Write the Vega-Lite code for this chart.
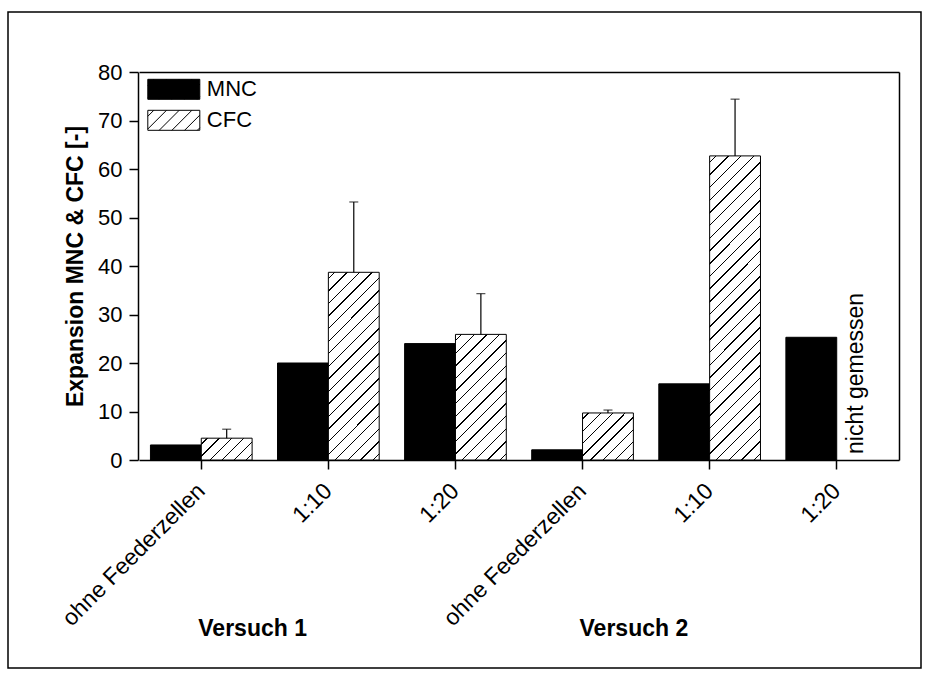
{
  "$schema": "https://vega.github.io/schema/vega-lite/v6.json",
  "width": 913,
  "height": 656,
  "autosize": {"type": "none"},
  "padding": {"left": 8, "top": 12, "right": 10, "bottom": 12},
  "background": "white",
  "data": {
    "values": [
      {"grp": "Versuch 1|ohne Feederzellen", "series": "MNC", "val": 3.1},
      {"grp": "Versuch 1|ohne Feederzellen", "series": "CFC", "val": 4.5, "upper": 6.35},
      {"grp": "Versuch 1|1:10", "series": "MNC", "val": 20.0},
      {"grp": "Versuch 1|1:10", "series": "CFC", "val": 38.7, "upper": 53.2},
      {"grp": "Versuch 1|1:20", "series": "MNC", "val": 24.0},
      {"grp": "Versuch 1|1:20", "series": "CFC", "val": 25.9, "upper": 34.3},
      {"grp": "Versuch 2|ohne Feederzellen", "series": "MNC", "val": 2.1},
      {"grp": "Versuch 2|ohne Feederzellen", "series": "CFC", "val": 9.7, "upper": 10.3},
      {"grp": "Versuch 2|1:10", "series": "MNC", "val": 15.7},
      {"grp": "Versuch 2|1:10", "series": "CFC", "val": 62.7, "upper": 74.4},
      {"grp": "Versuch 2|1:20", "series": "MNC", "val": 25.3},
      {"grp": "Versuch 2|1:20", "series": "CFC", "val": null, "note": "nicht gemessen"}
    ]
  },
  "layer": [
    {
      "mark": {"type": "bar", "stroke": "black", "strokeWidth": 1},
      "encoding": {
        "x": {
          "field": "grp", "type": "nominal", "sort": null,
          "scale": {
            "domain": ["Versuch 1|ohne Feederzellen", "Versuch 1|1:10", "Versuch 1|1:20", "Versuch 2|ohne Feederzellen", "Versuch 2|1:10", "Versuch 2|1:20"],
            "range": [131, 891], "paddingInner": 0.2, "paddingOuter": 0.09
          },
          "axis": {
            "orient": "bottom", "offset": -208, "title": null,
            "labelExpr": "split(datum.value,'|')[1]",
            "labelAngle": -45, "labelAlign": "right", "labelBaseline": "middle", "labelLimit": 0, "labelFontSize": 23,
            "labelPadding": 18, "tickSize": 9, "labelOverlap": false, "labelBound": false, "labelFlush": false
          }
        },
        "xOffset": {"field": "series", "type": "nominal", "scale": {"domain": ["MNC", "CFC"], "paddingInner": 0, "paddingOuter": 0}},
        "y": {
          "field": "val", "type": "quantitative",
          "scale": {"domain": [0, 80], "range": [448, 60], "nice": false, "zero": true},
          "axis": {
            "orient": "left", "offset": -130, "values": [0, 10, 20, 30, 40, 50, 60, 70, 80],
            "tickSize": 9, "labelPadding": 7,
            "title": "Expansion MNC & CFC [-]", "titleFontSize": 23, "titleFontWeight": "bold", "titlePadding": 10
          }
        },
        "fill": {
          "field": "series", "type": "nominal",
          "scale": {"domain": ["MNC", "CFC"], "range": ["black", "white"]},
          "condition": [
            {"test": "datum.series === 'CFC' && datum.grp === 'Versuch 1|ohne Feederzellen'", "value": {"gradient": "linear", "x1": 0, "y1": 0, "x2": 1.207, "y2": 0.518, "stops": [
              {"offset": 0.0736, "color": "#fff"}, {"offset": 0.0736, "color": "#000"}, {"offset": 0.093, "color": "#000"}, {"offset": 0.093, "color": "#fff"},
              {"offset": 0.2403, "color": "#fff"}, {"offset": 0.2403, "color": "#000"}, {"offset": 0.2597, "color": "#000"}, {"offset": 0.2597, "color": "#fff"},
              {"offset": 0.407, "color": "#fff"}, {"offset": 0.407, "color": "#000"}, {"offset": 0.4264, "color": "#000"}, {"offset": 0.4264, "color": "#fff"},
              {"offset": 0.5736, "color": "#fff"}, {"offset": 0.5736, "color": "#000"}, {"offset": 0.593, "color": "#000"}, {"offset": 0.593, "color": "#fff"},
              {"offset": 0.7403, "color": "#fff"}, {"offset": 0.7403, "color": "#000"}, {"offset": 0.7597, "color": "#000"}, {"offset": 0.7597, "color": "#fff"},
              {"offset": 0.907, "color": "#fff"}, {"offset": 0.907, "color": "#000"}, {"offset": 0.9264, "color": "#000"}, {"offset": 0.9264, "color": "#fff"}
            ]}},
            {"test": "datum.series === 'CFC' && datum.grp === 'Versuch 1|1:10'", "value": {"gradient": "linear", "x1": 0, "y1": 0, "x2": 0.3209, "y2": 1.184, "stops": [
              {"offset": 0.0233, "color": "#fff"}, {"offset": 0.0233, "color": "#000"}, {"offset": 0.0293, "color": "#000"}, {"offset": 0.0293, "color": "#fff"},
              {"offset": 0.076, "color": "#fff"}, {"offset": 0.076, "color": "#000"}, {"offset": 0.082, "color": "#000"}, {"offset": 0.082, "color": "#fff"},
              {"offset": 0.1286, "color": "#fff"}, {"offset": 0.1286, "color": "#000"}, {"offset": 0.1346, "color": "#000"}, {"offset": 0.1346, "color": "#fff"},
              {"offset": 0.1812, "color": "#fff"}, {"offset": 0.1812, "color": "#000"}, {"offset": 0.1872, "color": "#000"}, {"offset": 0.1872, "color": "#fff"},
              {"offset": 0.2338, "color": "#fff"}, {"offset": 0.2338, "color": "#000"}, {"offset": 0.2398, "color": "#000"}, {"offset": 0.2398, "color": "#fff"},
              {"offset": 0.2865, "color": "#fff"}, {"offset": 0.2865, "color": "#000"}, {"offset": 0.2925, "color": "#000"}, {"offset": 0.2925, "color": "#fff"},
              {"offset": 0.3391, "color": "#fff"}, {"offset": 0.3391, "color": "#000"}, {"offset": 0.3451, "color": "#000"}, {"offset": 0.3451, "color": "#fff"},
              {"offset": 0.3917, "color": "#fff"}, {"offset": 0.3917, "color": "#000"}, {"offset": 0.3977, "color": "#000"}, {"offset": 0.3977, "color": "#fff"},
              {"offset": 0.4444, "color": "#fff"}, {"offset": 0.4444, "color": "#000"}, {"offset": 0.4504, "color": "#000"}, {"offset": 0.4504, "color": "#fff"},
              {"offset": 0.497, "color": "#fff"}, {"offset": 0.497, "color": "#000"}, {"offset": 0.503, "color": "#000"}, {"offset": 0.503, "color": "#fff"},
              {"offset": 0.5496, "color": "#fff"}, {"offset": 0.5496, "color": "#000"}, {"offset": 0.5556, "color": "#000"}, {"offset": 0.5556, "color": "#fff"},
              {"offset": 0.6023, "color": "#fff"}, {"offset": 0.6023, "color": "#000"}, {"offset": 0.6083, "color": "#000"}, {"offset": 0.6083, "color": "#fff"},
              {"offset": 0.6549, "color": "#fff"}, {"offset": 0.6549, "color": "#000"}, {"offset": 0.6609, "color": "#000"}, {"offset": 0.6609, "color": "#fff"},
              {"offset": 0.7075, "color": "#fff"}, {"offset": 0.7075, "color": "#000"}, {"offset": 0.7135, "color": "#000"}, {"offset": 0.7135, "color": "#fff"},
              {"offset": 0.7602, "color": "#fff"}, {"offset": 0.7602, "color": "#000"}, {"offset": 0.7662, "color": "#000"}, {"offset": 0.7662, "color": "#fff"},
              {"offset": 0.8128, "color": "#fff"}, {"offset": 0.8128, "color": "#000"}, {"offset": 0.8188, "color": "#000"}, {"offset": 0.8188, "color": "#fff"},
              {"offset": 0.8654, "color": "#fff"}, {"offset": 0.8654, "color": "#000"}, {"offset": 0.8714, "color": "#000"}, {"offset": 0.8714, "color": "#fff"},
              {"offset": 0.918, "color": "#fff"}, {"offset": 0.918, "color": "#000"}, {"offset": 0.924, "color": "#000"}, {"offset": 0.924, "color": "#fff"},
              {"offset": 0.9707, "color": "#fff"}, {"offset": 0.9707, "color": "#000"}, {"offset": 0.9767, "color": "#000"}, {"offset": 0.9767, "color": "#fff"}
            ]}},
            {"test": "datum.series === 'CFC' && datum.grp === 'Versuch 1|1:20'", "value": {"gradient": "linear", "x1": 0, "y1": 0, "x2": 0.4875, "y2": 1.207, "stops": [
              {"offset": 0.0317, "color": "#fff"}, {"offset": 0.0317, "color": "#000"}, {"offset": 0.0397, "color": "#000"}, {"offset": 0.0397, "color": "#fff"},
              {"offset": 0.1031, "color": "#fff"}, {"offset": 0.1031, "color": "#000"}, {"offset": 0.1111, "color": "#000"}, {"offset": 0.1111, "color": "#fff"},
              {"offset": 0.1746, "color": "#fff"}, {"offset": 0.1746, "color": "#000"}, {"offset": 0.1826, "color": "#000"}, {"offset": 0.1826, "color": "#fff"},
              {"offset": 0.246, "color": "#fff"}, {"offset": 0.246, "color": "#000"}, {"offset": 0.254, "color": "#000"}, {"offset": 0.254, "color": "#fff"},
              {"offset": 0.3174, "color": "#fff"}, {"offset": 0.3174, "color": "#000"}, {"offset": 0.3254, "color": "#000"}, {"offset": 0.3254, "color": "#fff"},
              {"offset": 0.3889, "color": "#fff"}, {"offset": 0.3889, "color": "#000"}, {"offset": 0.3969, "color": "#000"}, {"offset": 0.3969, "color": "#fff"},
              {"offset": 0.4603, "color": "#fff"}, {"offset": 0.4603, "color": "#000"}, {"offset": 0.4683, "color": "#000"}, {"offset": 0.4683, "color": "#fff"},
              {"offset": 0.5317, "color": "#fff"}, {"offset": 0.5317, "color": "#000"}, {"offset": 0.5397, "color": "#000"}, {"offset": 0.5397, "color": "#fff"},
              {"offset": 0.6031, "color": "#fff"}, {"offset": 0.6031, "color": "#000"}, {"offset": 0.6111, "color": "#000"}, {"offset": 0.6111, "color": "#fff"},
              {"offset": 0.6746, "color": "#fff"}, {"offset": 0.6746, "color": "#000"}, {"offset": 0.6826, "color": "#000"}, {"offset": 0.6826, "color": "#fff"},
              {"offset": 0.746, "color": "#fff"}, {"offset": 0.746, "color": "#000"}, {"offset": 0.754, "color": "#000"}, {"offset": 0.754, "color": "#fff"},
              {"offset": 0.8174, "color": "#fff"}, {"offset": 0.8174, "color": "#000"}, {"offset": 0.8254, "color": "#000"}, {"offset": 0.8254, "color": "#fff"},
              {"offset": 0.8889, "color": "#fff"}, {"offset": 0.8889, "color": "#000"}, {"offset": 0.8969, "color": "#000"}, {"offset": 0.8969, "color": "#fff"},
              {"offset": 0.9603, "color": "#fff"}, {"offset": 0.9603, "color": "#000"}, {"offset": 0.9683, "color": "#000"}, {"offset": 0.9683, "color": "#fff"}
            ]}},
            {"test": "datum.series === 'CFC' && datum.grp === 'Versuch 2|ohne Feederzellen'", "value": {"gradient": "linear", "x1": 0, "y1": 0, "x2": 1.038, "y2": 0.959, "stops": [
              {"offset": 0.0553, "color": "#fff"}, {"offset": 0.0553, "color": "#000"}, {"offset": 0.0697, "color": "#000"}, {"offset": 0.0697, "color": "#fff"},
              {"offset": 0.1803, "color": "#fff"}, {"offset": 0.1803, "color": "#000"}, {"offset": 0.1947, "color": "#000"}, {"offset": 0.1947, "color": "#fff"},
              {"offset": 0.3053, "color": "#fff"}, {"offset": 0.3053, "color": "#000"}, {"offset": 0.3197, "color": "#000"}, {"offset": 0.3197, "color": "#fff"},
              {"offset": 0.4303, "color": "#fff"}, {"offset": 0.4303, "color": "#000"}, {"offset": 0.4447, "color": "#000"}, {"offset": 0.4447, "color": "#fff"},
              {"offset": 0.5553, "color": "#fff"}, {"offset": 0.5553, "color": "#000"}, {"offset": 0.5697, "color": "#000"}, {"offset": 0.5697, "color": "#fff"},
              {"offset": 0.6803, "color": "#fff"}, {"offset": 0.6803, "color": "#000"}, {"offset": 0.6947, "color": "#000"}, {"offset": 0.6947, "color": "#fff"},
              {"offset": 0.8053, "color": "#fff"}, {"offset": 0.8053, "color": "#000"}, {"offset": 0.8197, "color": "#000"}, {"offset": 0.8197, "color": "#fff"},
              {"offset": 0.9303, "color": "#fff"}, {"offset": 0.9303, "color": "#000"}, {"offset": 0.9447, "color": "#000"}, {"offset": 0.9447, "color": "#fff"}
            ]}},
            {"test": "datum.series === 'CFC' && datum.grp === 'Versuch 2|1:10'", "value": {"gradient": "linear", "x1": 0, "y1": 0, "x2": 0.19, "y2": 1.1355, "stops": [
              {"offset": 0.0159, "color": "#fff"}, {"offset": 0.0159, "color": "#000"}, {"offset": 0.0199, "color": "#000"}, {"offset": 0.0199, "color": "#fff"},
              {"offset": 0.0516, "color": "#fff"}, {"offset": 0.0516, "color": "#000"}, {"offset": 0.0556, "color": "#000"}, {"offset": 0.0556, "color": "#fff"},
              {"offset": 0.0873, "color": "#fff"}, {"offset": 0.0873, "color": "#000"}, {"offset": 0.0913, "color": "#000"}, {"offset": 0.0913, "color": "#fff"},
              {"offset": 0.123, "color": "#fff"}, {"offset": 0.123, "color": "#000"}, {"offset": 0.127, "color": "#000"}, {"offset": 0.127, "color": "#fff"},
              {"offset": 0.1587, "color": "#fff"}, {"offset": 0.1587, "color": "#000"}, {"offset": 0.1627, "color": "#000"}, {"offset": 0.1627, "color": "#fff"},
              {"offset": 0.1944, "color": "#fff"}, {"offset": 0.1944, "color": "#000"}, {"offset": 0.1984, "color": "#000"}, {"offset": 0.1984, "color": "#fff"},
              {"offset": 0.2301, "color": "#fff"}, {"offset": 0.2301, "color": "#000"}, {"offset": 0.2341, "color": "#000"}, {"offset": 0.2341, "color": "#fff"},
              {"offset": 0.2659, "color": "#fff"}, {"offset": 0.2659, "color": "#000"}, {"offset": 0.2699, "color": "#000"}, {"offset": 0.2699, "color": "#fff"},
              {"offset": 0.3016, "color": "#fff"}, {"offset": 0.3016, "color": "#000"}, {"offset": 0.3056, "color": "#000"}, {"offset": 0.3056, "color": "#fff"},
              {"offset": 0.3373, "color": "#fff"}, {"offset": 0.3373, "color": "#000"}, {"offset": 0.3413, "color": "#000"}, {"offset": 0.3413, "color": "#fff"},
              {"offset": 0.373, "color": "#fff"}, {"offset": 0.373, "color": "#000"}, {"offset": 0.377, "color": "#000"}, {"offset": 0.377, "color": "#fff"},
              {"offset": 0.4087, "color": "#fff"}, {"offset": 0.4087, "color": "#000"}, {"offset": 0.4127, "color": "#000"}, {"offset": 0.4127, "color": "#fff"},
              {"offset": 0.4444, "color": "#fff"}, {"offset": 0.4444, "color": "#000"}, {"offset": 0.4484, "color": "#000"}, {"offset": 0.4484, "color": "#fff"},
              {"offset": 0.4801, "color": "#fff"}, {"offset": 0.4801, "color": "#000"}, {"offset": 0.4841, "color": "#000"}, {"offset": 0.4841, "color": "#fff"},
              {"offset": 0.5159, "color": "#fff"}, {"offset": 0.5159, "color": "#000"}, {"offset": 0.5199, "color": "#000"}, {"offset": 0.5199, "color": "#fff"},
              {"offset": 0.5516, "color": "#fff"}, {"offset": 0.5516, "color": "#000"}, {"offset": 0.5556, "color": "#000"}, {"offset": 0.5556, "color": "#fff"},
              {"offset": 0.5873, "color": "#fff"}, {"offset": 0.5873, "color": "#000"}, {"offset": 0.5913, "color": "#000"}, {"offset": 0.5913, "color": "#fff"},
              {"offset": 0.623, "color": "#fff"}, {"offset": 0.623, "color": "#000"}, {"offset": 0.627, "color": "#000"}, {"offset": 0.627, "color": "#fff"},
              {"offset": 0.6587, "color": "#fff"}, {"offset": 0.6587, "color": "#000"}, {"offset": 0.6627, "color": "#000"}, {"offset": 0.6627, "color": "#fff"},
              {"offset": 0.6944, "color": "#fff"}, {"offset": 0.6944, "color": "#000"}, {"offset": 0.6984, "color": "#000"}, {"offset": 0.6984, "color": "#fff"},
              {"offset": 0.7301, "color": "#fff"}, {"offset": 0.7301, "color": "#000"}, {"offset": 0.7341, "color": "#000"}, {"offset": 0.7341, "color": "#fff"},
              {"offset": 0.7659, "color": "#fff"}, {"offset": 0.7659, "color": "#000"}, {"offset": 0.7699, "color": "#000"}, {"offset": 0.7699, "color": "#fff"},
              {"offset": 0.8016, "color": "#fff"}, {"offset": 0.8016, "color": "#000"}, {"offset": 0.8056, "color": "#000"}, {"offset": 0.8056, "color": "#fff"},
              {"offset": 0.8373, "color": "#fff"}, {"offset": 0.8373, "color": "#000"}, {"offset": 0.8413, "color": "#000"}, {"offset": 0.8413, "color": "#fff"},
              {"offset": 0.873, "color": "#fff"}, {"offset": 0.873, "color": "#000"}, {"offset": 0.877, "color": "#000"}, {"offset": 0.877, "color": "#fff"},
              {"offset": 0.9087, "color": "#fff"}, {"offset": 0.9087, "color": "#000"}, {"offset": 0.9127, "color": "#000"}, {"offset": 0.9127, "color": "#fff"},
              {"offset": 0.9444, "color": "#fff"}, {"offset": 0.9444, "color": "#000"}, {"offset": 0.9484, "color": "#000"}, {"offset": 0.9484, "color": "#fff"},
              {"offset": 0.9801, "color": "#fff"}, {"offset": 0.9801, "color": "#000"}, {"offset": 0.9841, "color": "#000"}, {"offset": 0.9841, "color": "#fff"}
            ]}}
          ],
          "legend": {
            "orient": "none", "legendX": 154.8, "legendY": 66.3, "title": null, "padding": 0,
            "symbolType": "M-2.6,-1H2.6V1H-2.6Z M-2.6,-0.4L-2,-1 M-2.6,0.87L-0.73,-1 M-1.46,1L0.54,-1 M-0.19,1L1.81,-1 M1.08,1L2.6,-0.52 M2.35,1L2.6,0.75",
            "symbolSize": 400,
            "symbolStrokeColor": "black", "symbolStrokeWidth": 1,
            "labelFontSize": 22, "labelOffset": 22, "labelColor": "black", "rowPadding": 7,
            "encode": {
              "symbols": {
                "update": {
                  "stroke": {"value": "black"},
                  "strokeWidth": {"value": 1},
                  "opacity": {"value": 1}
                }
              }
            }
          }
        }
      }
    },
    {
      "transform": [{"filter": "isValid(datum.upper)"}],
      "mark": {"type": "rule", "color": "black", "strokeWidth": 1.2},
      "encoding": {
        "x": {"field": "grp", "type": "nominal", "axis": {"orient": "top", "offset": -60, "domain": true, "ticks": false, "labels": false, "title": null}},
        "xOffset": {"field": "series", "type": "nominal"},
        "y": {"field": "val", "type": "quantitative", "axis": {"orient": "right", "offset": -22, "domain": true, "ticks": false, "labels": false, "title": null}},
        "y2": {"field": "upper"}
      }
    },
    {
      "transform": [{"filter": "isValid(datum.upper)"}],
      "mark": {"type": "tick", "color": "black", "thickness": 1.2, "size": 9},
      "encoding": {
        "x": {"field": "grp", "type": "nominal", "axis": {
          "orient": "bottom", "offset": -208, "domain": false, "ticks": false, "tickSize": 0, "title": null,
          "labelExpr": "indexof(datum.value,'ohne') >= 0 ? split(datum.value,'|')[0] : ''",
          "labelAngle": 0, "labelAlign": "left", "labelBaseline": "top", "labelPadding": 157, "labelOffset": -3,
          "labelFontWeight": "bold", "labelFontSize": 23, "labelOverlap": false, "labelBound": false, "labelFlush": false, "labelLimit": 0
        }},
        "xOffset": {"field": "series", "type": "nominal"},
        "y": {"field": "upper", "type": "quantitative", "axis": null}
      }
    },
    {
      "transform": [{"filter": "isValid(datum.note)"}],
      "mark": {"type": "text", "angle": 270, "align": "left", "baseline": "alphabetic", "dx": 6, "dy": 1, "fontSize": 23, "color": "black"},
      "encoding": {
        "x": {"field": "grp", "type": "nominal", "axis": null},
        "xOffset": {"field": "series", "type": "nominal"},
        "y": {"datum": 0, "type": "quantitative", "axis": null},
        "text": {"field": "note"}
      }
    }
  ],
  "resolve": {"axis": {"x": "independent", "y": "independent"}},
  "config": {
    "font": "Liberation Sans",
    "view": {"stroke": "black", "strokeWidth": 1.5},
    "axis": {
      "domainColor": "black", "domainWidth": 1.5, "tickColor": "black", "tickWidth": 1.5,
      "labelColor": "black", "labelFont": "Liberation Sans", "labelFontSize": 22,
      "titleColor": "black", "titleFont": "Liberation Sans", "grid": false
    },
    "legend": {"labelFont": "Liberation Sans"}
  }
}
